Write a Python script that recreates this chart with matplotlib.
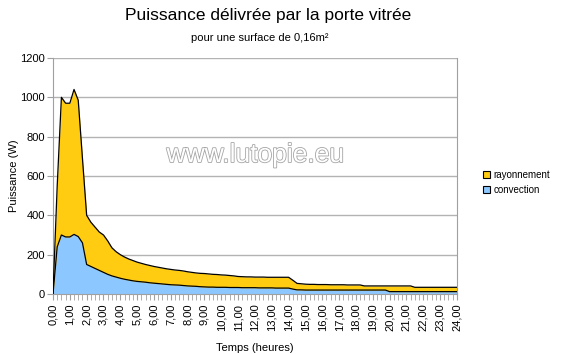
import matplotlib
matplotlib.use("Agg")
import matplotlib.pyplot as plt
import matplotlib.patheffects as pe
from matplotlib.patches import Patch
import numpy as np

plt.rcParams['font.family'] = ['Liberation Sans', 'DejaVu Sans']

# time in hours, one category every 15 minutes
hours = [i / 4 for i in range(97)]

convection = [
    0, 240, 300, 290, 290, 303, 292, 260,            # 0.00 - 1.75
    150, 140, 130, 120, 110, 100, 92, 86,             # 2.00 - 3.75
    80, 75, 71, 67, 64, 62, 60, 57,                   # 4.00 - 5.75
    55, 53, 51, 49, 47, 46, 45, 43,                   # 6.00 - 7.75
    41, 40, 39, 37, 36, 35, 35, 34,                   # 8.00 - 9.75
    34, 34, 33, 33, 33, 32, 32, 32,                   # 10.00 - 11.75
    32, 31, 31, 31, 31, 30, 30, 30,                   # 12.00 - 13.75
    30, 25, 21, 21, 20, 20, 20, 20,                   # 14.00 - 15.75
    20, 20, 20, 20, 20, 20, 20, 20,                   # 16.00 - 17.75
    20, 20, 20, 20, 20, 20, 20, 20,                   # 18.00 - 19.75
    12, 12, 12, 12, 12, 12, 12, 12,                   # 20.00 - 21.75
    12, 12, 12, 12, 12, 12, 12, 12,                   # 22.00 - 23.75
    12,                                               # 24.00
]

rayonnement = [
    0, 310, 700, 680, 680, 737, 693, 430,
    250, 225, 210, 195, 190, 170, 143, 129,
    120, 113, 107, 103, 98, 94, 90, 88,
    85, 83, 81, 79, 78, 76, 75, 74,
    72, 70, 68, 68, 68, 67, 65, 65,
    63, 62, 61, 59, 56, 56, 55, 55,
    54, 55, 55, 54, 54, 55, 55, 55,
    55, 45, 33, 31, 30, 29, 29, 28,
    28, 28, 27, 27, 27, 27, 26, 26,
    26, 26, 21, 21, 21, 21, 21, 21,
    29, 29, 29, 29, 29, 29, 22, 22,
    22, 22, 22, 22, 22, 22, 22, 22,
    22,
]

hour_labels = ["%d,00" % h for h in range(25)]
colors = ["#8cc8ff", "#ffcc11"]

fig = plt.figure(figsize=(5.62, 3.54), dpi=100)
ax = fig.add_axes([0.0943, 0.1695, 0.7187, 0.6667])

x = np.array(hours)
conv = np.array(convection, dtype=float)
ray = np.array(rayonnement, dtype=float)
total = conv + ray

ax.fill_between(x, 0, conv, color=colors[0], linewidth=0, zorder=2)
ax.fill_between(x, conv, total, color=colors[1], linewidth=0, zorder=2)
ax.plot(x, conv, color="black", linewidth=0.9, zorder=3)
ax.plot(x, total, color="black", linewidth=0.9, zorder=3)

ax.set_xlim(0, 24)
ax.set_ylim(0, 1200)
ax.set_yticks(range(0, 1201, 200))
ax.set_xticks(range(25))
ax.set_xticklabels(hour_labels, rotation=90, fontsize=8)
ax.set_xticks(hours, minor=True)
ax.tick_params(axis='x', which='both', length=4, color='#a0a0a0', direction='out', pad=3)
ax.tick_params(axis='y', length=4, color='#a0a0a0', labelsize=8, pad=2)
ax.grid(axis='y', color='#b3b3b3', linewidth=1, zorder=1)
ax.set_axisbelow(True)
for s in ['left', 'right', 'bottom']:
    ax.spines[s].set_color('#a0a0a0')
ax.spines['top'].set_visible(False)

ax.set_ylabel("Puissance (W)", fontsize=8, labelpad=1)
ax.set_xlabel("Temps (heures)", fontsize=8, labelpad=8)

fig.text(0.477, 0.955, "Puissance délivrée par la porte vitrée", ha='center', va='center', fontsize=12.5)
fig.text(0.462, 0.893, "pour une surface de 0,16m²", ha='center', va='center', fontsize=8)

fig.text(0.454, 0.562, "www.lutopie.eu", ha='center', va='center', fontsize=19,
         color='white', path_effects=[pe.withStroke(linewidth=1.2, foreground='#a5a5a5')])

handles = [Patch(facecolor=colors[1], edgecolor='black', linewidth=0.8, label="rayonnement"),
           Patch(facecolor=colors[0], edgecolor='black', linewidth=0.8, label="convection")]
fig.legend(handles=handles, loc='center left', bbox_to_anchor=(0.843, 0.485), frameon=False,
           fontsize=7, handlelength=0.8, handleheight=0.8, handletextpad=0.3, labelspacing=0.5)

fig.savefig("out.png", dpi=100)
